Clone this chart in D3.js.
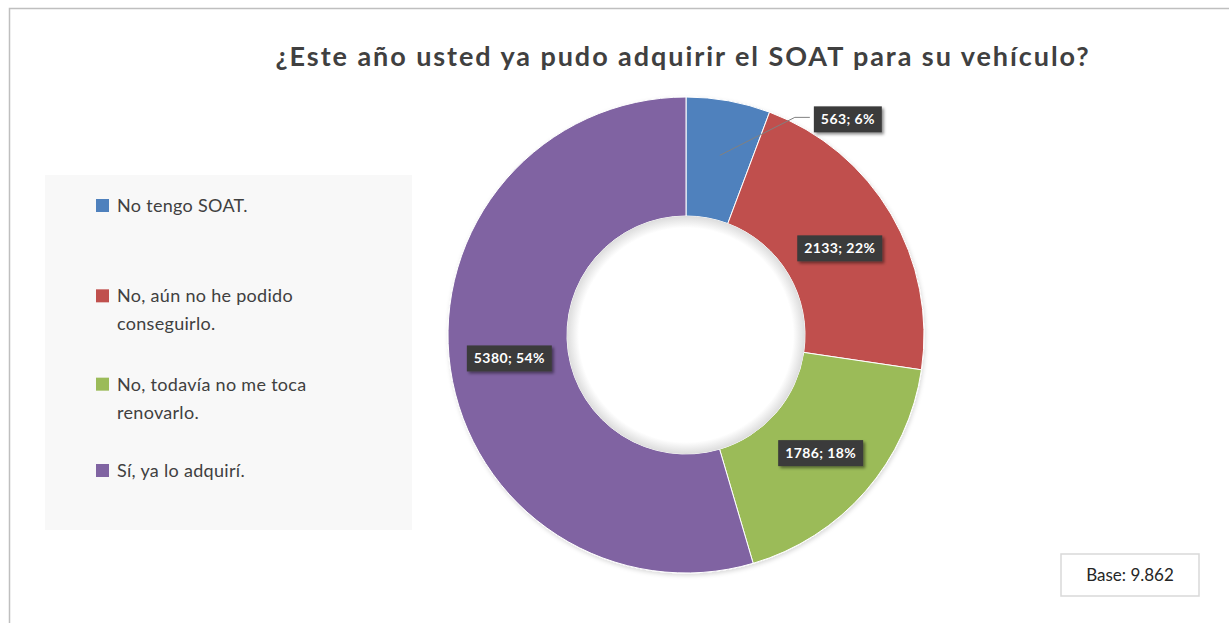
<!DOCTYPE html>
<html>
  <head>
    <meta charset="utf-8">
    <script src="https://d3js.org/d3.v7.min.js"></script>
    <style>
      body { margin: 0; background: #fff; font-family: Lato, "Open Sans", sans-serif; }
      svg { display: block; }
    </style>
  </head>
  <body>
    <script>
      // data
      var categories = ["No tengo SOAT.", "No, aún no he podido conseguirlo.", "No, todavía no me toca renovarlo.", "Sí, ya lo adquirí."];
      var legendLines = [["No tengo SOAT."], ["No, aún no he podido", "conseguirlo."], ["No, todavía no me toca", "renovarlo."], ["Sí, ya lo adquirí."]];
      var counts = [563, 2133, 1786, 5380];
      var percents = [6, 22, 18, 54];
      var colors = ["#4f81bd", "#c0504d", "#9bbb59", "#8064a2"];
      var title = "¿Este año usted ya pudo adquirir el SOAT para su vehículo?";
      var baseText = "Base: 9.862";

      var width = 1229, height = 623;
      var svg = d3.select("body").append("svg")
        .attr("width", width)
        .attr("height", height);

      var defs = svg.append("defs");
      var hole = defs.append("radialGradient").attr("id", "hole");
      hole.append("stop").attr("offset", "0.9").attr("stop-color", "#ffffff");
      hole.append("stop").attr("offset", "1").attr("stop-color", "#dcdcdc");
      var sh = defs.append("filter").attr("id", "lblshadow").attr("x", "-20%").attr("y", "-30%").attr("width", "150%").attr("height", "180%");
      sh.append("feDropShadow").attr("dx", 2).attr("dy", 2).attr("stdDeviation", 1.5).attr("flood-color", "#000").attr("flood-opacity", 0.45);
      var ds = defs.append("filter").attr("id", "donutshadow").attr("x", "-10%").attr("y", "-10%").attr("width", "120%").attr("height", "120%");
      ds.append("feDropShadow").attr("dx", 1).attr("dy", 2).attr("stdDeviation", 2).attr("flood-color", "#000").attr("flood-opacity", 0.15);

      // outer frame
      svg.append("rect")
        .attr("x", 9.5).attr("y", 8.5)
        .attr("width", width).attr("height", height)
        .attr("fill", "#fff")
        .attr("stroke", "#bfbfbf")
        .attr("stroke-width", 1.5);

      // title, stretched by letter spacing to the reference width
      var titleText = svg.append("text")
        .attr("x", 683).attr("y", 66)
        .attr("text-anchor", "middle")
        .style("font-family", "Lato, 'Open Sans', sans-serif")
        .style("font-weight", "bold")
        .style("font-size", "27px")
        .style("fill", "#404040")
        .text(title);
      var tl = titleText.node().getComputedTextLength();
      titleText.style("letter-spacing", ((815 - tl) / title.length) + "px");

      // legend
      var legend = svg.append("g");
      legend.append("rect")
        .attr("x", 45).attr("y", 175)
        .attr("width", 367).attr("height", 355)
        .attr("fill", "#f8f8f8");

      var legendY = d3.scalePoint().domain(d3.range(categories.length)).range([205, 470]);
      var lineH = 28;
      var items = legend.selectAll(".item")
        .data(categories)
        .enter().append("g")
          .attr("class", "item")
          .attr("transform", function(d, i) {
            var y = i == 0 || i == 3 ? legendY(i) : legendY(i) + 2;
            return "translate(96," + y + ")";
          });
      items.append("rect")
        .attr("x", 0).attr("y", -6)
        .attr("width", 13).attr("height", 13)
        .attr("fill", function(d, i) { return colors[i]; });
      items.each(function(d, i) {
        var t = d3.select(this).append("text")
          .attr("x", 21)
          .attr("y", 7)
          .style("font-size", "18px")
          .style("letter-spacing", "0.3px")
          .style("fill", "#404040");
        legendLines[i].forEach(function(l, j) {
          t.append("tspan").attr("x", 21).attr("dy", j == 0 ? 0 : lineH).text(l);
        });
      });

      // donut
      var cx = 686, cy = 335, outerR = 238, innerR = 119;
      var pie = d3.pie().sort(null).value(function(d) { return d; });
      var arc = d3.arc().innerRadius(innerR).outerRadius(outerR);
      var mid = d3.arc().innerRadius((innerR + outerR) / 2).outerRadius((innerR + outerR) / 2);
      var arcs = pie(counts);

      var donut = svg.append("g").attr("transform", "translate(" + cx + "," + cy + ")");
      donut.append("g").attr("filter", "url(#donutshadow)")
        .selectAll("path")
        .data(arcs)
        .enter().append("path")
          .attr("d", arc)
          .attr("fill", function(d, i) { return colors[i]; })
          .attr("stroke", "#fff")
          .attr("stroke-width", 1);
      donut.append("circle").attr("r", innerR).attr("fill", "url(#hole)");

      // data labels
      var labelOffset = [[130, -40], [0, 4], [0, 1], [0, -2]];
      var labels = donut.selectAll(".lbl")
        .data(arcs)
        .enter().append("g")
          .attr("class", "lbl")
          .attr("transform", function(d, i) {
            var c = mid.centroid(d);
            return "translate(" + (c[0] + labelOffset[i][0]) + "," + (c[1] + labelOffset[i][1]) + ")";
          });

      // leader line for the small slice
      var c0 = mid.centroid(arcs[0]);
      donut.insert("polyline", ".lbl")
        .attr("points", [[c0[0] + 2, c0[1] - 4], [c0[0] + 77, c0[1] - 42], [c0[0] + 92, c0[1] - 42]].map(function(p) { return p.join(","); }).join(" "))
        .attr("fill", "none")
        .attr("stroke", "#808080")
        .attr("stroke-width", 1);

      labels.each(function(d, i) {
        var g = d3.select(this);
        var t = g.append("text")
          .attr("text-anchor", "middle")
          .attr("y", 5)
          .style("font-size", "14px")
          .style("font-weight", "bold")
          .style("letter-spacing", "0.4px")
          .style("fill", "#ffffff")
          .text(counts[i] + "; " + percents[i] + "%");
        var w = t.node().getComputedTextLength() + 14;
        g.insert("rect", "text")
          .attr("x", -w / 2).attr("y", -13)
          .attr("width", w).attr("height", 26)
          .attr("fill", "#3a3a3a")
          .attr("filter", "url(#lblshadow)");
      });

      // base box
      var base = svg.append("g").attr("transform", "translate(1061,554)");
      base.append("rect")
        .attr("width", 138).attr("height", 42)
        .attr("fill", "#fff")
        .attr("stroke", "#d9d9d9")
        .attr("stroke-width", 1.5);
      base.append("text")
        .attr("x", 69).attr("y", 27)
        .attr("text-anchor", "middle")
        .style("font-size", "17px")
        .style("fill", "#262626")
        .text(baseText);
    </script>
  </body>
</html>
